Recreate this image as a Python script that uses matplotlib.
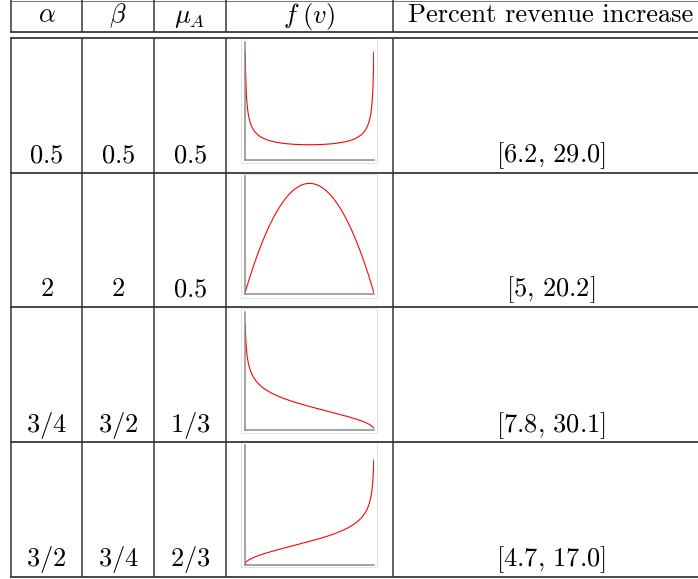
import math
import numpy as np
import matplotlib
matplotlib.use("Agg")
import matplotlib.pyplot as plt
from matplotlib.patches import Rectangle

plt.rcParams["mathtext.fontset"] = "cm"

# Table contents
alphas = ["$0.5$", "$2$", "$3/4$", "$3/2$"]
betas = ["$0.5$", "$2$", "$3/2$", "$3/4$"]
mus = ["$0.5$", "$0.5$", "$1/3$", "$2/3$"]
revenue = ["$[6.2,\\,29.0]$", "$[5,\\,20.2]$", "$[7.8,\\,30.1]$", "$[4.7,\\,17.0]$"]
headers = ["$\\alpha$", "$\\beta$", "$\\mu_A$", "$f\\;(v)$", "Percent revenue increase"]

# Beta distribution parameters for the density sketches
alpha_vals = [0.5, 2.0, 0.75, 1.5]
beta_vals = [0.5, 2.0, 1.5, 0.75]

W, H = 698, 579
fig = plt.figure(figsize=(W / 100, H / 100), dpi=100)
ax = fig.add_axes([0, 0, 1, 1])
ax.set_xlim(0, W)
ax.set_ylim(H, 0)
ax.axis("off")

px = 0.72  # one pixel in points
hcol = "#111111"
vcol = "#333333"

# column borders and row borders (pixel layout)
col_x = [11, 82.3, 154, 226, 392.6]
row_y = [37.7, 172.7, 306.7, 442.4, 576.5]
header_top, header_bot = 0.6, 32.2

# horizontal rules
ax.plot([11, W], [header_top, header_top], color="#777777", lw=1.0 * px)
for y in [header_bot, 37.7] + row_y[1:]:
    ax.plot([10.3, W], [y, y], color=hcol, lw=1.5 * px, solid_capstyle="butt")

# vertical rules
for x in col_x:
    ax.plot([x, x], [0, header_bot], color=vcol, lw=1.5 * px, solid_capstyle="butt")
    ax.plot([x, x], [37.7, row_y[-1]], color=vcol, lw=1.5 * px, solid_capstyle="butt")

fs = 19
centers = [46.6, 118.2, 190.0, 309.3, 551.0]

# header
for i, htxt in enumerate(headers):
    kw = {}
    if i == 4:
        kw["fontfamily"] = "cmr10"
    ax.text(centers[i], 22.5, htxt, ha="center", va="baseline", fontsize=fs, **kw)

# body rows
for r in range(4):
    base = row_y[r + 1] - 10.2
    ax.text(centers[0], base, alphas[r], ha="center", va="baseline", fontsize=fs)
    ax.text(centers[1], base, betas[r], ha="center", va="baseline", fontsize=fs)
    ax.text(centers[2], base, mus[r], ha="center", va="baseline", fontsize=fs)
    ax.text(centers[4], base, revenue[r], ha="center", va="baseline", fontsize=fs)

# density thumbnails: frame box and axes box in pixels
frames = [(38.0, 163.0), (174.0, 297.7), (308.3, 432.7), (441.3, 567.0)]
axes_y = [(42.0, 160.0), (176.0, 294.3), (311.7, 430.0), (445.3, 565.0)]
ymaxes = [4.93, 1.6, 4.41, 4.46]
ax_left, ax_right = 244.6, 374.4

v = np.linspace(0.005, 0.995, 400)
for r in range(4):
    ft, fb = frames[r]
    ax.add_patch(Rectangle((241.3, ft), 376.7 - 241.3, fb - ft, fill=False,
                           edgecolor="#e3e3e3", lw=1.0 * px))
    at, ab = axes_y[r]
    sub = fig.add_axes([ax_left / W, 1 - ab / H, (ax_right - ax_left) / W, (ab - at) / H])
    a, b = alpha_vals[r], beta_vals[r]
    norm = math.gamma(a) * math.gamma(b) / math.gamma(a + b)
    if r == 1:
        vv = np.linspace(0, 1, 400)
    else:
        vv = v
    dens = vv ** (a - 1) * (1 - vv) ** (b - 1) / norm
    sub.plot(vv, dens, color="red", lw=1.1 * px)
    sub.set_xlim(0, 1)
    sub.set_ylim(0, ymaxes[r])
    sub.set_xticks([])
    sub.set_yticks([])
    sub.patch.set_alpha(0)
    for s in ["top", "right"]:
        sub.spines[s].set_visible(False)
    for s in ["left", "bottom"]:
        sub.spines[s].set_color("#888888")
        sub.spines[s].set_linewidth(1.5 * px)

fig.savefig("out.png", dpi=100)
